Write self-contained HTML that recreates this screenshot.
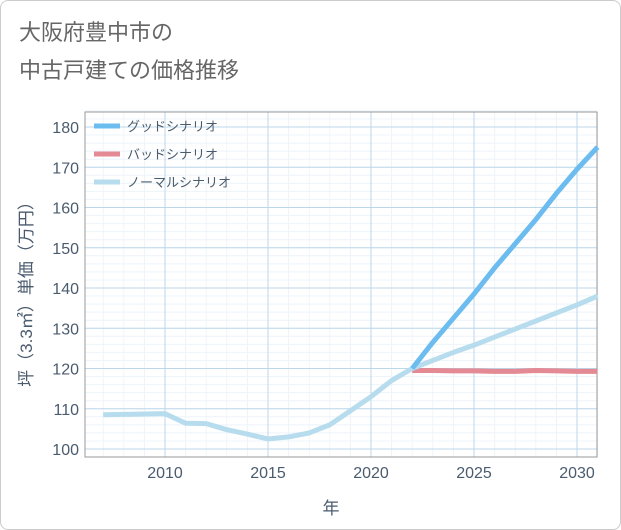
<!DOCTYPE html>
<html><head><meta charset="utf-8"><style>
body{margin:0;background:#fff;font-family:"Liberation Sans","Noto Sans CJK JP",sans-serif;}
#wrap{position:relative;width:619px;height:528px;border:1px solid #ccc;border-radius:8px;background:#fff;overflow:hidden}
.t{position:absolute;left:18px;font-size:22px;color:#666;}
</style></head><body>
<div id="wrap">
<div class="t" style="top:14px">大阪府豊中市の</div>
<div class="t" style="top:52px">中古戸建ての価格推移</div>
<svg id="c" width="621" height="530" style="position:absolute;left:-1px;top:-1px"></svg>
</div>
<script>
const years=[2007,2008,2009,2010,2011,2012,2013,2014,2015,2016,2017,2018,2019,2020,2021,2022,2023,2024,2025,2026,2027,2028,2029,2030,2031];
const normal=[108.5,108.6,108.7,108.8,106.4,106.3,104.8,103.7,102.5,103,104,106,109.5,113,117,120,122,124,125.8,127.8,129.8,131.8,133.8,135.8,138];
const goodYears=[2022,2023,2024,2025,2026,2027,2028,2029,2030,2031];
const good=[120,126.5,132.5,138.5,145,151,157,163.5,169.5,175];
const badYears=[2022,2023,2024,2025,2026,2027,2028,2029,2030,2031];
const bad=[119.5,119.5,119.4,119.4,119.3,119.3,119.5,119.4,119.3,119.3];
const xTicks=[2010,2015,2020,2025,2030];
const yTicks=[100,110,120,130,140,150,160,170,180];
const L=85,R=597,T=112,B=457;
const x=v=>165+(v-2010)*20.6;
const y=v=>449-(v-100)*4.025;
const s=document.getElementById('c');const NS='http://www.w3.org/2000/svg';
function el(t,a){const e=document.createElementNS(NS,t);for(const k in a)e.setAttribute(k,a[k]);s.appendChild(e);return e;}
let g;
for(let yr=2007;yr<=2031;yr++){g=el('line',{x1:x(yr),x2:x(yr),y1:T,y2:B,stroke:'#edf4fa','stroke-width':1});}
for(let v=98;v<=184;v+=2){g=el('line',{x1:L,x2:R,y1:y(v),y2:y(v),stroke:'#edf4fa','stroke-width':1});}
xTicks.forEach(v=>{g=el('line',{x1:x(v),x2:x(v),y1:T,y2:B,stroke:'#bcd7ea'});
 const t=el('text',{x:x(v),y:478,'text-anchor':'middle','font-size':16,fill:'#4a5b6e'});t.textContent=v;});
yTicks.forEach(v=>{g=el('line',{x1:L,x2:R,y1:y(v),y2:y(v),stroke:'#bcd7ea'});
 const t=el('text',{x:79,y:y(v)+6,'text-anchor':'end','font-size':16,fill:'#4a5b6e'});t.textContent=v;});
g=el('rect',{x:L,y:T,width:R-L,height:B-T,fill:'none',stroke:'#999'});
function line(xs,ys,c,n){const p=el('polyline',{points:xs.map((v,i)=>x(v)+','+y(ys[i])).join(' '),fill:'none',stroke:c,'stroke-width':5,'stroke-linejoin':'round'});}
line(badYears,bad,'#e38a94','bad-scenario-line');
line(years,normal,'#b7dced','normal-scenario-line');
line(goodYears,good,'#6cbcf0','good-scenario-line');
[['グッドシナリオ','#6cbcf0'],['バッドシナリオ','#e38a94'],['ノーマルシナリオ','#b7dced']].forEach((d,i)=>{
 const yy=126+i*28;
 g=el('line',{x1:94,x2:120,y1:yy,y2:yy,stroke:d[1],'stroke-width':5});
 const t=el('text',{x:127,y:yy+5,'font-size':13,fill:'#4a5b6e'});t.textContent=d[0];});
let t=el('text',{x:331,y:514,'text-anchor':'middle','font-size':17,fill:'#4a5b6e'});t.textContent='年';
t=el('text',{x:0,y:0,'text-anchor':'middle','font-size':17,fill:'#4a5b6e',transform:'translate(32,290) rotate(-90)'});t.textContent='坪（3.3㎡）単価（万円）';
</script></body></html>
